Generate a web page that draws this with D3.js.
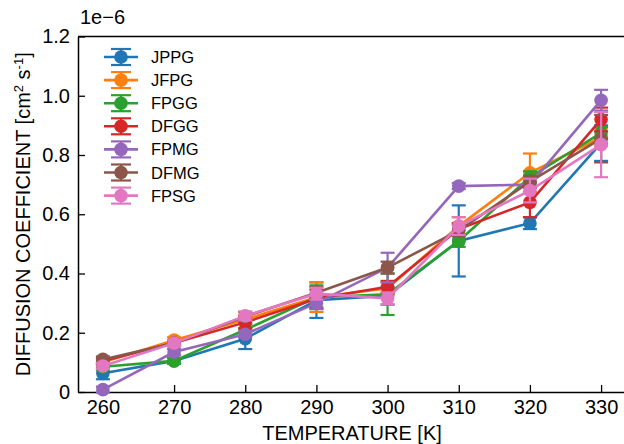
<!DOCTYPE html>
<html><head><meta charset="utf-8">
<script src="https://cdn.jsdelivr.net/npm/d3@7"></script>
<style>body{margin:0;background:#fff}svg{display:block}text{font-family:"Liberation Sans",Arial,sans-serif;fill:#000}</style>
</head><body><svg id="c" width="624" height="444"></svg>
<script>
const temps = [260, 270, 280, 290, 300, 310, 320, 330];
const seriesNames = ["JPPG", "JFPG", "FPGG", "DFGG", "FPMG", "DFMG", "FPSG"];
const colors = ["#1f77b4", "#ff7f0e", "#2ca02c", "#d62728", "#9467bd", "#8c564b", "#e377c2"];
const JPPG = [0.063, 0.105, 0.18, 0.31, 0.325, 0.51, 0.57, 0.84];
const JPPG_err = [0.02, 0.01, 0.035, 0.06, 0.03, 0.12, 0.02, 0.06];
const JFPG = [0.10, 0.175, 0.245, 0.32, 0.35, 0.56, 0.74, 0.86];
const JFPG_err = [0.01, 0.01, 0.015, 0.05, 0.02, 0.03, 0.065, 0.03];
const FPGG = [0.085, 0.105, 0.21, 0.32, 0.33, 0.51, 0.725, 0.875];
const FPGG_err = [0.01, 0.01, 0.02, 0.04, 0.07, 0.02, 0.02, 0.02];
const DFGG = [0.105, 0.165, 0.235, 0.315, 0.355, 0.55, 0.64, 0.92];
const DFGG_err = [0.01, 0.01, 0.02, 0.03, 0.02, 0.02, 0.05, 0.04];
const FPMG = [0.008, 0.135, 0.195, 0.30, 0.42, 0.695, 0.70, 0.985];
const FPMG_err = [0.01, 0.01, 0.01, 0.02, 0.05, 0.01, 0.01, 0.035];
const DFMG = [0.11, 0.165, 0.255, 0.335, 0.42, 0.545, 0.71, 0.855];
const DFMG_err = [0.01, 0.01, 0.015, 0.02, 0.02, 0.02, 0.02, 0.08];
const FPSG = [0.088, 0.165, 0.257, 0.332, 0.316, 0.56, 0.68, 0.835];
const FPSG_err = [0.01, 0.01, 0.015, 0.02, 0.02, 0.03, 0.04, 0.11];
const xTicks = [260, 270, 280, 290, 300, 310, 320, 330];
const yTicks = [0, 0.2, 0.4, 0.6, 0.8, 1.0, 1.2];
const yTickLabels = ["0", "0.2", "0.4", "0.6", "0.8", "1.0", "1.2"];

const values = [JPPG, JFPG, FPGG, DFGG, FPMG, DFMG, FPSG];
const errs = [JPPG_err, JFPG_err, FPGG_err, DFGG_err, FPMG_err, DFMG_err, FPSG_err];

const svg = d3.select("#c");
const L = 78, R = 626, T = 36.5, B = 392;
const x = d3.scaleLinear().domain([256.5, 333.5]).range([L, R]);
const y = d3.scaleLinear().domain([0, 1.2]).range([B, T]);
const FS = "20px";

// axes
const xAxis = d3.axisBottom(x).tickValues(xTicks).tickSizeInner(-7).tickSizeOuter(0).tickPadding(8).tickFormat(d3.format("d"));
const gx = svg.append("g").attr("transform", `translate(0,${B})`).call(xAxis);
const yAxis = d3.axisLeft(y).tickValues(yTicks).tickSizeInner(-7).tickSizeOuter(0).tickPadding(8).tickFormat((d,i)=>yTickLabels[i]);
const gy = svg.append("g").attr("transform", `translate(${L},0)`).call(yAxis);
[gx, gy].forEach(g => {
  g.selectAll("path.domain").attr("stroke", "#000").attr("stroke-width", 1.5);
  g.selectAll(".tick line").attr("stroke", "#000").attr("stroke-width", 1.3);
  g.selectAll(".tick text").style("font-size", FS).style("font-family", '"Liberation Sans",Arial,sans-serif');
});
gx.selectAll(".tick text").attr("dy", "0.71em");
// top frame
svg.append("line").attr("x1", L).attr("x2", R).attr("y1", T).attr("y2", T).attr("stroke", "#000").attr("stroke-width", 1.5);
svg.append("line").attr("x1", R).attr("x2", R).attr("y1", T).attr("y2", B).attr("stroke", "#000").attr("stroke-width", 1.5);

svg.append("text").attr("x", 80).attr("y", 24).style("font-size", FS).text("1e\u22126");

svg.append("text").attr("x", (L + R) / 2).attr("y", 440).attr("text-anchor", "middle").style("font-size", FS).text("TEMPERATURE [K]");
const yl = svg.append("text").attr("transform", `translate(30,${(T + B) / 2}) rotate(-90)`).attr("text-anchor", "middle").style("font-size", FS);
yl.append("tspan").text("DIFFUSION COEFFICIENT [cm");
yl.append("tspan").attr("dy", -7).style("font-size", "13px").text("2");
yl.append("tspan").attr("dy", 7).text(" s");
yl.append("tspan").attr("dy", -7).style("font-size", "13px").text("-1");
yl.append("tspan").attr("dy", 7).text("]");

// series
const cap = 7, mr = 6.8;
const line = d3.line().x((d, i) => x(temps[i])).y(d => y(d));
values.forEach((vals, s) => {
  const g = svg.append("g");
  const c = colors[s];
  g.append("path").attr("d", line(vals)).attr("fill", "none").attr("stroke", c).attr("stroke-width", 2.6);
  vals.forEach((v, i) => {
    const cx = x(temps[i]), e = errs[s][i];
    g.append("line").attr("x1", cx).attr("x2", cx).attr("y1", y(v - e)).attr("y2", y(v + e)).attr("stroke", c).attr("stroke-width", 2.2);
    [v - e, v + e].forEach(w => g.append("line").attr("x1", cx - cap).attr("x2", cx + cap).attr("y1", y(w)).attr("y2", y(w)).attr("stroke", c).attr("stroke-width", 2.2));
  });
  g.selectAll("circle").data(vals).join("circle").attr("cx", (d, i) => x(temps[i])).attr("cy", d => y(d)).attr("r", mr).attr("fill", c);
});

// legend
const lg = svg.append("g");
seriesNames.forEach((n, s) => {
  const cy = 57 + s * 23.1, c = colors[s];
  lg.append("line").attr("x1", 104).attr("x2", 138).attr("y1", cy).attr("y2", cy).attr("stroke", c).attr("stroke-width", 2.6);
  lg.append("line").attr("x1", 121).attr("x2", 121).attr("y1", cy - 8).attr("y2", cy + 8).attr("stroke", c).attr("stroke-width", 2.2);
  [-8, 8].forEach(o => lg.append("line").attr("x1", 111).attr("x2", 131).attr("y1", cy + o).attr("y2", cy + o).attr("stroke", c).attr("stroke-width", 2.2));
  lg.append("circle").attr("cx", 121).attr("cy", cy).attr("r", mr).attr("fill", c);
  lg.append("text").attr("x", 151).attr("y", cy + 6).style("font-size", "16.5px").text(n);
});
</script></body></html>
